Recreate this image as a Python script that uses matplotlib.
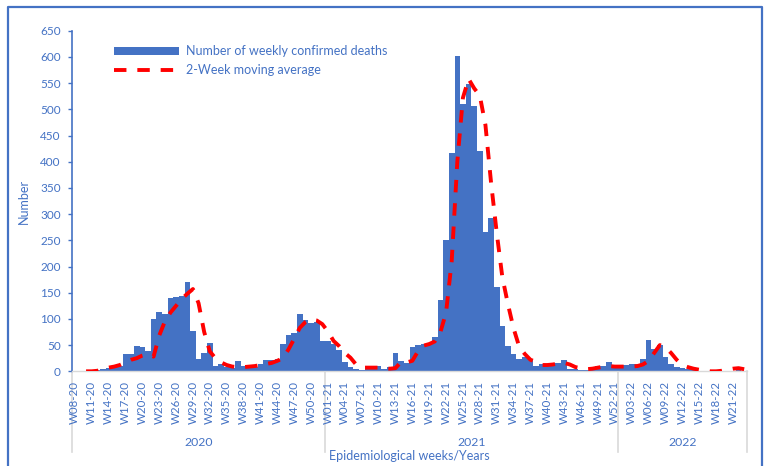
import numpy as np
import matplotlib
matplotlib.use("Agg")
import matplotlib.pyplot as plt
from matplotlib.lines import Line2D
from matplotlib.patches import Patch
import matplotlib.transforms as mtransforms

plt.rcParams['font.family'] = ['Lato', 'DejaVu Sans']

# ---- data -------------------------------------------------------------
weeks_2020 = list(range(8, 53))
weeks_2021 = list(range(1, 53))
weeks_2022 = list(range(1, 24))
categories = ([f"W{w:02d}-20" for w in weeks_2020] +
              [f"W{w:02d}-21" for w in weeks_2021] +
              [f"W{w:02d}-22" for w in weeks_2022])
years = ["2020", "2021", "2022"]

deaths_2020 = [0, 0, 0, 1, 2, 5, 6, 9, 11, 33, 33, 48, 46, 38, 99, 113, 109, 139,
               142, 144, 170, 77, 24, 34, 54, 11, 13, 9, 7, 20, 11, 8, 9, 13, 22,
               22, 23, 52, 70, 73, 109, 97, 92, 95, 58]
deaths_2021 = [57, 52, 41, 18, 9, 5, 3, 11, 11, 10, 4, 8, 35, 20, 15, 47, 50, 52,
               53, 66, 136, 250, 416, 602, 510, 548, 506, 421, 265, 292, 161, 87,
               48, 33, 23, 27, 22, 10, 13, 13, 16, 16, 22, 5, 5, 3, 3, 3, 11, 11,
               18, 9]
deaths_2022 = [11, 12, 13, 14, 24, 59, 43, 50, 28, 14, 9, 7, 4, 3, 1, 1, 1, 2, 1,
               1, 1, 6, 0]
deaths = deaths_2020 + deaths_2021 + deaths_2022

moving_avg = [np.nan, np.nan, 0, 0, 1, 4, 7, 9, 12, 17, 22, 25, 30, 33, 28, 68, 95,
              112, 125, 138, 148, 157, 130, 75, 38, 25, 17, 12, 9, 8, 8, 9, 10, 12,
              14, 16, 20, 25, 42, 62, 83, 94, 99, 97, 90,
              76, 58, 48, 35, 26, 13, 7, 7, 7, 7, 6, 5, 6, 18, 17, 20, 38, 49, 52,
              57, 75, 112, 210, 400, 522, 558, 540, 526, 470, 360, 265, 180, 128,
              82, 47, 33, 22, 18, 12, 12, 13, 15, 16, 13, 8, 6, 4, 5, 7, 9, 10, 9,
              9, 9, 9, 10, 13, 20, 35, 50, 46, 35, 22, 12, 8, 5, 3, 2, 0, 0, 1, 3,
              5, 6, 4]

yticks = list(range(0, 651, 50))

# ---- figure -----------------------------------------------------------
BLUE = '#4472C4'
W, H = 765, 466
fig = plt.figure(figsize=(W / 100, H / 100), dpi=100)
ax = fig.add_axes([72 / W, 1 - 371.3 / H, 675 / W, 340.6 / H])

x = np.arange(len(categories))
ax.bar(x, deaths, width=1.0, color=BLUE, linewidth=0, zorder=2)
ax.plot(x, moving_avg, color='#FF0000', lw=2.8, linestyle=(0, (3.2, 2.8)),
        zorder=3)

ax.set_xlim(-0.5, len(categories) - 0.5)
ax.set_ylim(0, 650)
ax.set_yticks(yticks)
ax.set_yticklabels([str(v) for v in yticks])
ax.tick_params(axis='y', colors=BLUE, labelsize=8.5, length=3, width=1, pad=5)
ax.set_xticks(x[::3])
ax.set_xticklabels(categories[::3], rotation=90)
ax.tick_params(axis='x', colors=BLUE, labelsize=8.3, length=0, pad=7)

for s in ['top', 'right']:
    ax.spines[s].set_visible(False)
ax.spines['left'].set_color(BLUE)
ax.spines['left'].set_linewidth(1.2)
ax.spines['bottom'].set_color('#D9D9D9')
ax.spines['bottom'].set_linewidth(1.0)

ax.set_ylabel('Number', color=BLUE, fontsize=9)
ax.yaxis.set_label_coords((30 - 72) / 675, 0.5)
ax.set_xlabel('Epidemiological weeks/Years', color=BLUE, fontsize=9)
ax.xaxis.set_label_coords(0.5, (371.3 - 456) / 340.6)
ax.xaxis.label.set_verticalalignment('center')

# multi-level category axis: year separators and year labels
trans = mtransforms.blended_transform_factory(ax.transData, ax.transAxes)
counts = [len(weeks_2020), len(weeks_2021), len(weeks_2022)]
bounds = np.concatenate([[0], np.cumsum(counts)]) - 0.5
for b in bounds:
    ax.plot([b, b], [0, (371.3 - 452) / 340.6], transform=trans, color='#D9D9D9',
            lw=1.2, clip_on=False, zorder=1)
for yr, a, b in zip(years, bounds[:-1], bounds[1:]):
    ax.text((a + b) / 2, (371.3 - 442.7) / 340.6, yr, transform=trans,
            ha='center', va='center', color=BLUE, fontsize=8.8)

# legend
handles = [Patch(facecolor=BLUE, edgecolor='none'),
           Line2D([0], [0], color='#FF0000', lw=2.8, linestyle=(0, (3.2, 2.8)))]
labels = ['Number of weekly confirmed deaths', '2-Week moving average']
leg = ax.legend(handles, labels, loc='upper left',
                bbox_to_anchor=(114 / W, 1 - 45 / H),
                bbox_transform=fig.transFigure, frameon=False, fontsize=9,
                handlelength=5.2, handleheight=0.6, handletextpad=0.6,
                labelspacing=0.6, borderpad=0, borderaxespad=0)
for t in leg.get_texts():
    t.set_color(BLUE)

# outer frame (left, top, right)
fx = [8 / W, 8 / W, 762 / W, 762 / W]
fy = [-0.05, 1 - 7 / H, 1 - 7 / H, -0.05]
fig.add_artist(Line2D(fx, fy, color=BLUE, lw=1.6, transform=fig.transFigure))

fig.savefig('out.png', dpi=100)
